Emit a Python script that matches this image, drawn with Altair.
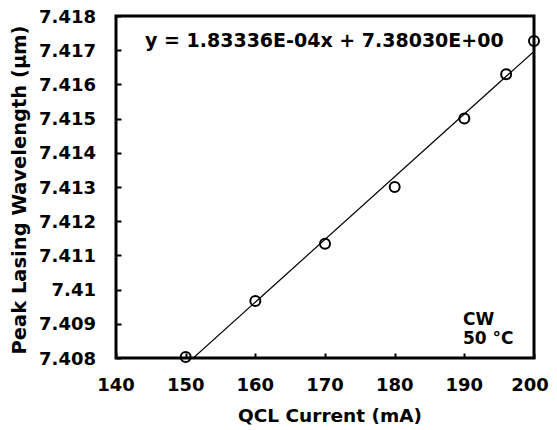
import altair as alt
import pandas as pd

# Measured data
current_mA = [150, 160, 170, 180, 190, 196, 200]
wavelength_um = [7.40803, 7.40967, 7.41134, 7.41300, 7.41500, 7.41630, 7.41727]

# Linear fit shown on the chart
fit_slope = 1.83336e-04
fit_intercept = 7.38030
fit_x = [140, 200]

x_ticks = [140, 150, 160, 170, 180, 190, 200]
y_ticks = [7.408, 7.409, 7.410, 7.411, 7.412, 7.413, 7.414, 7.415, 7.416, 7.417, 7.418]

x_title = "QCL Current (mA)"
y_title = "Peak Lasing  Wavelength (µm)"
eq_label = "y = 1.83336E-04x  + 7.38030E+00"
cond_label = ["CW", "50 °C"]

FONT = "DejaVu Sans"
W, H = 418, 342

pts = pd.DataFrame({"x": current_mA, "y": wavelength_um})
fit = pd.DataFrame({"x": fit_x})
xt = pd.DataFrame({"x": x_ticks[:-1]})
xt_last = pd.DataFrame({"x": x_ticks[-1:]})
yt = pd.DataFrame({"y": y_ticks})

xscale = alt.Scale(domain=[140, 200], nice=False, zero=False)
yscale = alt.Scale(domain=[7.408, 7.418], nice=False, zero=False)

xaxis = alt.Axis(
    title=None, values=x_ticks, labels=False, grid=False, domain=False,
    offset=-5, tickSize=5, tickWidth=2, tickColor="black",
)
yaxis = alt.Axis(
    title=None, values=y_ticks, labels=False, grid=False, domain=False,
    offset=-5, tickSize=5, tickWidth=2, tickColor="black",
)

X = lambda f: alt.X(f, scale=xscale, axis=xaxis)
Y = lambda f: alt.Y(f, scale=yscale, axis=yaxis)

line = alt.Chart(fit).transform_calculate(
    y=f"{fit_slope} * datum.x + {fit_intercept}"
).mark_line(color="black", strokeWidth=1.2, clip=True).encode(
    x=X("x:Q"), y=Y("y:Q"),
)

points = alt.Chart(pts).mark_point(
    shape="circle", filled=False, color="black", size=100, strokeWidth=2, opacity=1
).encode(x=X("x:Q"), y=Y("y:Q"))

lab_style = dict(font=FONT, fontSize=18, fontWeight="bold", color="black")

xlabels = alt.Chart(xt).mark_text(align="center", baseline="alphabetic", **lab_style).encode(
    x=X("x:Q"), y=alt.value(H + 33), text=alt.Text("x:Q", format="d"),
)
xlabel_last = alt.Chart(xt_last).mark_text(
    align="center", baseline="alphabetic", dx=-4, **lab_style
).encode(x=X("x:Q"), y=alt.value(H + 33), text=alt.Text("x:Q", format="d"))

ylabels = alt.Chart(yt).mark_text(
    align="right", baseline="alphabetic", dy=6.5, **lab_style
).encode(x=alt.value(-20), y=Y("y:Q"), text=alt.Text("y:Q", format=".3~f"))

xtitle = alt.Chart(alt.Data(values=[{}])).mark_text(
    text=x_title, font=FONT, fontSize=18.5, fontWeight="bold", color="black",
    align="center", baseline="alphabetic",
).encode(x=alt.value(214), y=alt.value(H + 64))

ytitle = alt.Chart(alt.Data(values=[{}])).mark_text(
    text=y_title, font=FONT, fontSize=19.5, fontWeight="bold", color="black",
    align="center", baseline="middle", angle=270,
).encode(x=alt.value(-96), y=alt.value(174))

eq_text = alt.Chart(alt.Data(values=[{}])).mark_text(
    text=eq_label, font=FONT, fontSize=19, fontWeight="bold",
    align="left", baseline="alphabetic", color="black",
).encode(x=alt.value(29), y=alt.value(31))

cw_text = alt.Chart(alt.Data(values=[{}])).mark_text(
    text=cond_label, font=FONT, fontSize=17, fontWeight="bold", lineHeight=19,
    align="left", baseline="alphabetic", color="black",
).encode(x=alt.value(347), y=alt.value(309))

chart = alt.layer(
    line, points, xlabels, xlabel_last, ylabels, xtitle, ytitle, eq_text, cw_text
).properties(
    width=W, height=H,
    background="white",
    autosize=alt.AutoSizeParams(type="none"),
    padding={"left": 108, "top": 8, "right": 15, "bottom": 70},
).configure_view(stroke="black", strokeWidth=3)

chart.save("out.html", embed_options={"renderer": "svg", "actions": False})
